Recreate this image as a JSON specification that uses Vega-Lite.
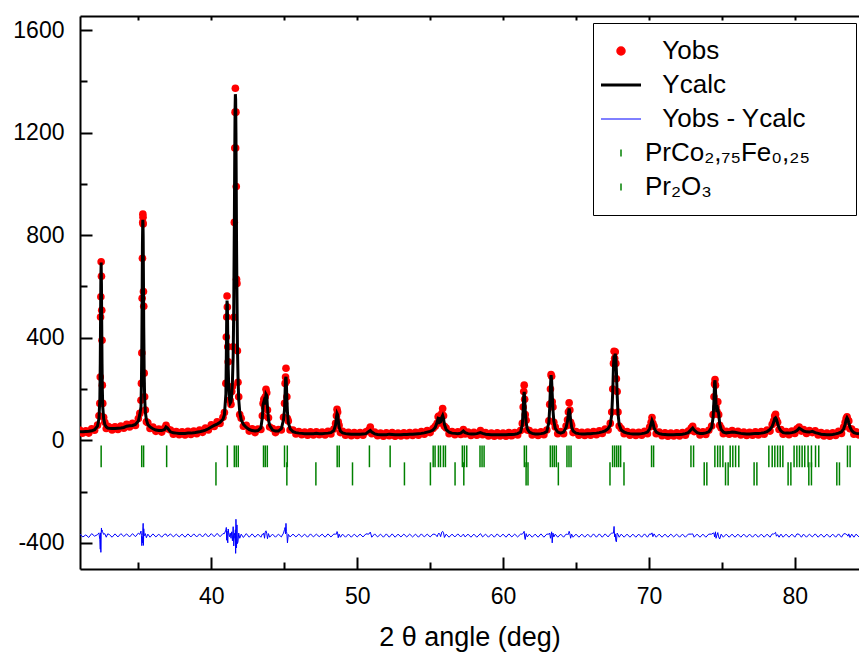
{
"$schema": "https://vega.github.io/schema/vega-lite/v6.json",
"width": 779, "height": 553,
"autosize": {"type": "none"},
"padding": {"left": 80, "top": 16, "right": 0, "bottom": 84},
"background": "white",
"config": {
  "view": {"stroke": null},
  "font": "Liberation Sans",
  "axis": {"domainColor": "black", "domainWidth": 2, "tickColor": "black", "tickWidth": 2, "labelColor": "black", "labelFont": "Liberation Sans", "labelFontSize": 23, "grid": false, "titleFont": "Liberation Sans", "titleFontWeight": "normal", "titleColor": "black"}
},
"datasets": {
"p": [
{"x":31.0,"c":33,"o":39,"d":-366},{"x":31.2,"c":33,"o":28,"d":-377},{"x":31.4,"c":34,"o":37,"d":-369},{"x":31.6,"c":35,"o":28,"d":-379},{"x":31.8,"c":37,"o":45,"d":-364},{"x":32.0,"c":41,"o":39,"d":-374},{"x":32.2,"c":55,"o":59,"d":-368},
{"x":32.30,"c":85,"o":96,"d":-361},{"x":32.36,"c":160,"o":144,"d":-388},{"x":32.39,"c":300,"o":247,"d":-425},{"x":32.41,"c":470,"o":481,"d":-361},{"x":32.43,"c":640,"o":560,"d":-437},{"x":32.45,"c":693,"o":696,"d":-369},{"x":32.47,"c":610,"o":640,"d":-342},{"x":32.49,"c":450,"o":507,"d":-356},{"x":32.51,"c":300,"o":390,"d":-350},{"x":32.53,"c":200,"o":215,"d":-357},{"x":32.56,"c":130,"o":144,"d":-358},{"x":32.62,"c":85,"o":90,"d":-367},{"x":32.70,"c":62,"o":70,"d":-364},{"x":32.80,"c":52,"o":46,"d":-378},{"x":32.9,"c":48,"o":55,"d":-365},
{"x":33.0,"c":47,"o":52,"d":-367},{"x":33.2,"c":46,"o":40,"d":-378},{"x":33.4,"c":46,"o":53,"d":-365},{"x":33.6,"c":47,"o":42,"d":-377},{"x":33.8,"c":48,"o":56,"d":-364},{"x":34.0,"c":50,"o":47,"d":-375},{"x":34.2,"c":55,"o":62,"d":-365},{"x":34.4,"c":57,"o":52,"d":-377},{"x":34.6,"c":58,"o":66,"d":-364},{"x":34.8,"c":62,"o":58,"d":-376},{"x":35.0,"c":75,"o":85,"d":-362},{"x":35.1,"c":100,"o":105,"d":-367},
{"x":35.18,"c":130,"o":156,"d":-354},{"x":35.21,"c":220,"o":222,"d":-370},{"x":35.24,"c":380,"o":341,"d":-411},{"x":35.26,"c":560,"o":554,"d":-378},{"x":35.28,"c":760,"o":710,"d":-400},{"x":35.30,"c":850,"o":850,"d":-372},{"x":35.31,"c":860,"o":882,"d":-350},{"x":35.32,"c":840,"o":870,"d":-335},{"x":35.33,"c":800,"o":844,"d":-324},{"x":35.35,"c":620,"o":580,"d":-410},{"x":35.37,"c":440,"o":523,"d":-345},{"x":35.40,"c":260,"o":262,"d":-370},{"x":35.43,"c":170,"o":170,"d":-372},{"x":35.48,"c":110,"o":118,"d":-364},{"x":35.55,"c":80,"o":72,"d":-380},{"x":35.65,"c":62,"o":68,"d":-366},{"x":35.8,"c":52,"o":46,"d":-378},
{"x":36.0,"c":45,"o":52,"d":-365},{"x":36.2,"c":40,"o":35,"d":-377},{"x":36.4,"c":38,"o":44,"d":-366},{"x":36.6,"c":38,"o":32,"d":-378},{"x":36.8,"c":42,"o":48,"d":-366},{"x":36.9,"c":52,"o":58,"d":-366},{"x":37.0,"c":48,"o":45,"d":-375},{"x":37.2,"c":33,"o":40,"d":-365},{"x":37.4,"c":29,"o":24,"d":-377},{"x":37.6,"c":28,"o":34,"d":-366},{"x":37.8,"c":27,"o":22,"d":-377},{"x":38.0,"c":27,"o":33,"d":-366},{"x":38.2,"c":27,"o":21,"d":-378},{"x":38.4,"c":28,"o":35,"d":-365},{"x":38.6,"c":28,"o":23,"d":-377},{"x":38.8,"c":29,"o":36,"d":-365},{"x":39.0,"c":31,"o":26,"d":-377},{"x":39.2,"c":33,"o":40,"d":-365},{"x":39.4,"c":36,"o":31,"d":-377},{"x":39.6,"c":40,"o":48,"d":-364},{"x":39.8,"c":45,"o":40,"d":-377},{"x":40.0,"c":52,"o":60,"d":-364},{"x":40.2,"c":58,"o":54,"d":-376},{"x":40.4,"c":63,"o":72,"d":-363},{"x":40.6,"c":70,"o":66,"d":-376},{"x":40.8,"c":82,"o":90,"d":-364},{"x":40.9,"c":100,"o":108,"d":-364},
{"x":41.00,"c":180,"o":222,"d":-350},{"x":41.03,"c":330,"o":403,"d":-340},{"x":41.06,"c":500,"o":481,"d":-390},{"x":41.08,"c":545,"o":563,"d":-354},{"x":41.10,"c":530,"o":520,"d":-382},{"x":41.13,"c":400,"o":365,"d":-400},{"x":41.16,"c":280,"o":306,"d":-346},{"x":41.20,"c":200,"o":207,"d":-365},{"x":41.25,"c":160,"o":156,"d":-376},{"x":41.30,"c":145,"o":155,"d":-362},{"x":41.35,"c":150,"o":140,"d":-382},{"x":41.40,"c":175,"o":190,"d":-357},{"x":41.45,"c":230,"o":210,"d":-392},{"x":41.50,"c":330,"o":365,"d":-337},{"x":41.54,"c":520,"o":480,"d":-412},{"x":41.58,"c":850,"o":850,"d":-372},{"x":41.61,"c":1130,"o":1140,"d":-362},{"x":41.63,"c":1290,"o":1280,"d":-382},{"x":41.65,"c":1350,"o":1373,"d":-349},{"x":41.67,"c":1330,"o":1140,"d":-441},{"x":41.69,"c":1200,"o":1280,"d":-308},{"x":41.71,"c":1000,"o":990,"d":-382},{"x":41.73,"c":780,"o":628,"d":-420},{"x":41.76,"c":560,"o":612,"d":-330},{"x":41.79,"c":380,"o":349,"d":-403},{"x":41.83,"c":250,"o":226,"d":-396},{"x":41.88,"c":160,"o":170,"d":-362},{"x":41.95,"c":110,"o":100,"d":-382},{"x":42.05,"c":80,"o":86,"d":-366},
{"x":42.2,"c":62,"o":55,"d":-379},{"x":42.4,"c":50,"o":58,"d":-364},{"x":42.6,"c":42,"o":36,"d":-378},{"x":42.8,"c":38,"o":45,"d":-365},{"x":43.0,"c":36,"o":30,"d":-378},{"x":43.2,"c":38,"o":44,"d":-366},{"x":43.4,"c":48,"o":42,"d":-378},{"x":43.50,"c":90,"o":96,"d":-366},{"x":43.55,"c":140,"o":144,"d":-368},{"x":43.60,"c":150,"o":160,"d":-362},{"x":43.65,"c":140,"o":130,"d":-382},{"x":43.70,"c":155,"o":170,"d":-357},{"x":43.75,"c":180,"o":199,"d":-353},{"x":43.80,"c":175,"o":185,"d":-362},{"x":43.85,"c":130,"o":118,"d":-384},{"x":43.92,"c":80,"o":88,"d":-364},{"x":44.0,"c":58,"o":52,"d":-378},{"x":44.2,"c":40,"o":46,"d":-366},{"x":44.4,"c":36,"o":30,"d":-378},{"x":44.6,"c":36,"o":42,"d":-366},{"x":44.8,"c":45,"o":40,"d":-377},{"x":44.95,"c":80,"o":90,"d":-362},
{"x":45.02,"c":120,"o":144,"d":-348},{"x":45.06,"c":190,"o":222,"d":-340},{"x":45.09,"c":240,"o":247,"d":-365},{"x":45.12,"c":248,"o":281,"d":-324},{"x":45.15,"c":215,"o":230,"d":-357},{"x":45.18,"c":160,"o":170,"d":-362},{"x":45.22,"c":110,"o":85,"d":-400},{"x":45.28,"c":70,"o":75,"d":-367},{"x":45.4,"c":45,"o":40,"d":-377},{"x":45.6,"c":34,"o":40,"d":-366},{"x":45.8,"c":30,"o":25,"d":-377},{"x":46.0,"c":28,"o":34,"d":-366},{"x":46.2,"c":27,"o":22,"d":-377},{"x":46.4,"c":26,"o":32,"d":-366},{"x":46.6,"c":26,"o":20,"d":-378},{"x":46.8,"c":26,"o":33,"d":-365},{"x":47.0,"c":26,"o":21,"d":-377},{"x":47.2,"c":27,"o":33,"d":-366},{"x":47.4,"c":26,"o":22,"d":-376},{"x":47.6,"c":26,"o":32,"d":-366},{"x":47.8,"c":27,"o":21,"d":-378},{"x":48.0,"c":28,"o":35,"d":-365},{"x":48.2,"c":30,"o":25,"d":-377},{"x":48.4,"c":38,"o":44,"d":-366},
{"x":48.52,"c":60,"o":66,"d":-366},{"x":48.58,"c":90,"o":96,"d":-366},{"x":48.62,"c":105,"o":121,"d":-356},{"x":48.66,"c":100,"o":110,"d":-362},{"x":48.70,"c":80,"o":72,"d":-380},{"x":48.76,"c":52,"o":58,"d":-366},{"x":48.85,"c":36,"o":30,"d":-378},{"x":49.0,"c":29,"o":35,"d":-366},{"x":49.2,"c":26,"o":20,"d":-378},{"x":49.4,"c":25,"o":31,"d":-366},{"x":49.6,"c":24,"o":18,"d":-378},{"x":49.8,"c":24,"o":30,"d":-366},{"x":50.0,"c":24,"o":19,"d":-377},{"x":50.2,"c":24,"o":30,"d":-366},{"x":50.4,"c":25,"o":20,"d":-377},{"x":50.6,"c":26,"o":33,"d":-365},{"x":50.8,"c":34,"o":40,"d":-366},{"x":50.9,"c":38,"o":52,"d":-358},{"x":51.0,"c":32,"o":26,"d":-378},{"x":51.2,"c":25,"o":32,"d":-365},{"x":51.4,"c":23,"o":18,"d":-377},{"x":51.6,"c":22,"o":28,"d":-366},{"x":51.8,"c":22,"o":16,"d":-378},{"x":52.0,"c":22,"o":29,"d":-365},{"x":52.2,"c":24,"o":18,"d":-378},{"x":52.4,"c":23,"o":30,"d":-365},{"x":52.6,"c":22,"o":16,"d":-378},{"x":52.8,"c":22,"o":28,"d":-366},{"x":53.0,"c":22,"o":17,"d":-377},{"x":53.2,"c":23,"o":29,"d":-366},{"x":53.4,"c":23,"o":18,"d":-377},{"x":53.6,"c":24,"o":30,"d":-366},{"x":53.8,"c":24,"o":19,"d":-377},{"x":54.0,"c":25,"o":31,"d":-366},{"x":54.2,"c":26,"o":20,"d":-378},{"x":54.4,"c":27,"o":34,"d":-365},{"x":54.6,"c":29,"o":24,"d":-377},{"x":54.8,"c":32,"o":38,"d":-366},{"x":55.0,"c":35,"o":30,"d":-377},{"x":55.2,"c":40,"o":46,"d":-366},{"x":55.35,"c":50,"o":55,"d":-367},
{"x":55.48,"c":70,"o":66,"d":-376},{"x":55.55,"c":86,"o":92,"d":-366},{"x":55.60,"c":85,"o":95,"d":-362},{"x":55.66,"c":70,"o":76,"d":-366},{"x":55.72,"c":72,"o":68,"d":-376},{"x":55.80,"c":90,"o":104,"d":-358},{"x":55.86,"c":97,"o":124,"d":-355},{"x":55.92,"c":85,"o":96,"d":-361},{"x":55.98,"c":62,"o":55,"d":-379},{"x":56.1,"c":42,"o":48,"d":-366},{"x":56.3,"c":32,"o":26,"d":-378},{"x":56.5,"c":28,"o":34,"d":-366},{"x":56.7,"c":27,"o":22,"d":-377},{"x":56.9,"c":26,"o":33,"d":-365},{"x":57.1,"c":28,"o":23,"d":-377},{"x":57.28,"c":36,"o":42,"d":-366},{"x":57.4,"c":30,"o":25,"d":-377},{"x":57.6,"c":26,"o":32,"d":-366},{"x":57.8,"c":25,"o":19,"d":-378},{"x":58.0,"c":25,"o":31,"d":-366},{"x":58.2,"c":26,"o":20,"d":-378},{"x":58.45,"c":30,"o":38,"d":-364},{"x":58.6,"c":27,"o":22,"d":-377},{"x":58.8,"c":24,"o":30,"d":-366},{"x":59.0,"c":23,"o":17,"d":-378},{"x":59.2,"c":22,"o":28,"d":-366},{"x":59.4,"c":22,"o":16,"d":-378},{"x":59.6,"c":22,"o":29,"d":-365},{"x":59.8,"c":22,"o":17,"d":-377},{"x":60.0,"c":22,"o":28,"d":-366},{"x":60.2,"c":22,"o":16,"d":-378},{"x":60.4,"c":23,"o":30,"d":-365},{"x":60.6,"c":23,"o":18,"d":-377},{"x":60.8,"c":24,"o":30,"d":-366},{"x":61.0,"c":26,"o":21,"d":-377},{"x":61.2,"c":32,"o":38,"d":-366},
{"x":61.32,"c":60,"o":66,"d":-366},{"x":61.38,"c":120,"o":130,"d":-362},{"x":61.42,"c":175,"o":190,"d":-357},{"x":61.45,"c":189,"o":215,"d":-355},{"x":61.48,"c":165,"o":160,"d":-377},{"x":61.52,"c":115,"o":100,"d":-387},{"x":61.58,"c":70,"o":78,"d":-364},{"x":61.66,"c":45,"o":40,"d":-377},{"x":61.8,"c":32,"o":38,"d":-366},{"x":62.0,"c":27,"o":21,"d":-378},{"x":62.2,"c":25,"o":31,"d":-366},{"x":62.4,"c":25,"o":19,"d":-378},{"x":62.6,"c":26,"o":33,"d":-365},{"x":62.8,"c":28,"o":22,"d":-378},{"x":63.0,"c":34,"o":40,"d":-366},
{"x":63.14,"c":70,"o":76,"d":-366},{"x":63.20,"c":130,"o":140,"d":-362},{"x":63.25,"c":210,"o":200,"d":-382},{"x":63.29,"c":254,"o":256,"d":-370},{"x":63.33,"c":235,"o":250,"d":-357},{"x":63.37,"c":180,"o":150,"d":-400},{"x":63.42,"c":120,"o":130,"d":-362},{"x":63.48,"c":75,"o":70,"d":-377},{"x":63.58,"c":46,"o":52,"d":-366},{"x":63.75,"c":32,"o":26,"d":-378},{"x":63.95,"c":28,"o":34,"d":-366},{"x":64.15,"c":32,"o":26,"d":-378},{"x":64.32,"c":50,"o":56,"d":-366},{"x":64.42,"c":75,"o":80,"d":-367},{"x":64.48,"c":105,"o":110,"d":-367},{"x":64.53,"c":124,"o":146,"d":-355},{"x":64.58,"c":110,"o":118,"d":-364},{"x":64.63,"c":80,"o":70,"d":-382},{"x":64.70,"c":52,"o":58,"d":-366},{"x":64.8,"c":36,"o":30,"d":-378},
{"x":65.0,"c":28,"o":34,"d":-366},{"x":65.2,"c":26,"o":20,"d":-378},{"x":65.4,"c":25,"o":31,"d":-366},{"x":65.6,"c":25,"o":19,"d":-378},{"x":65.8,"c":26,"o":32,"d":-366},{"x":66.0,"c":26,"o":20,"d":-378},{"x":66.2,"c":27,"o":34,"d":-365},{"x":66.4,"c":28,"o":22,"d":-378},{"x":66.6,"c":30,"o":37,"d":-365},{"x":66.8,"c":33,"o":27,"d":-378},{"x":67.0,"c":37,"o":44,"d":-365},{"x":67.2,"c":45,"o":40,"d":-377},{"x":67.35,"c":60,"o":66,"d":-366},
{"x":67.45,"c":100,"o":110,"d":-362},{"x":67.52,"c":190,"o":200,"d":-362},{"x":67.57,"c":290,"o":300,"d":-362},{"x":67.61,"c":330,"o":347,"d":-336},{"x":67.65,"c":325,"o":320,"d":-377},{"x":67.69,"c":338,"o":345,"d":-365},{"x":67.73,"c":320,"o":300,"d":-392},{"x":67.77,"c":270,"o":240,"d":-396},{"x":67.82,"c":180,"o":190,"d":-362},{"x":67.88,"c":105,"o":110,"d":-367},{"x":67.96,"c":62,"o":56,"d":-378},{"x":68.1,"c":40,"o":46,"d":-366},{"x":68.3,"c":32,"o":26,"d":-378},{"x":68.5,"c":28,"o":34,"d":-366},{"x":68.7,"c":26,"o":20,"d":-378},{"x":68.9,"c":25,"o":31,"d":-366},{"x":69.1,"c":25,"o":19,"d":-378},{"x":69.3,"c":25,"o":31,"d":-366},{"x":69.5,"c":26,"o":20,"d":-378},{"x":69.7,"c":28,"o":35,"d":-365},{"x":69.9,"c":32,"o":26,"d":-378},{"x":70.05,"c":45,"o":52,"d":-365},
{"x":70.15,"c":65,"o":70,"d":-367},{"x":70.21,"c":78,"o":89,"d":-361},{"x":70.27,"c":70,"o":66,"d":-376},{"x":70.35,"c":48,"o":55,"d":-365},{"x":70.5,"c":32,"o":26,"d":-378},{"x":70.7,"c":26,"o":32,"d":-366},{"x":70.9,"c":24,"o":18,"d":-378},{"x":71.1,"c":23,"o":29,"d":-366},{"x":71.3,"c":22,"o":16,"d":-378},{"x":71.5,"c":22,"o":28,"d":-366},{"x":71.7,"c":22,"o":17,"d":-377},{"x":71.9,"c":23,"o":29,"d":-366},{"x":72.1,"c":23,"o":17,"d":-378},{"x":72.3,"c":24,"o":30,"d":-366},{"x":72.5,"c":26,"o":20,"d":-378},{"x":72.7,"c":30,"o":36,"d":-366},{"x":72.9,"c":42,"o":48,"d":-366},{"x":73.0,"c":48,"o":55,"d":-365},{"x":73.1,"c":40,"o":34,"d":-378},{"x":73.3,"c":30,"o":36,"d":-366},{"x":73.5,"c":27,"o":21,"d":-378},{"x":73.7,"c":27,"o":33,"d":-366},{"x":73.9,"c":29,"o":23,"d":-378},{"x":74.1,"c":33,"o":39,"d":-366},{"x":74.3,"c":50,"o":56,"d":-366},
{"x":74.40,"c":90,"o":100,"d":-362},{"x":74.46,"c":160,"o":170,"d":-362},{"x":74.50,"c":225,"o":220,"d":-377},{"x":74.53,"c":234,"o":237,"d":-369},{"x":74.56,"c":200,"o":215,"d":-357},{"x":74.60,"c":140,"o":130,"d":-382},{"x":74.66,"c":110,"o":112,"d":-370},{"x":74.72,"c":120,"o":150,"d":-360},{"x":74.78,"c":105,"o":100,"d":-377},{"x":74.85,"c":65,"o":58,"d":-385},{"x":74.95,"c":42,"o":48,"d":-366},{"x":75.1,"c":32,"o":26,"d":-378},{"x":75.3,"c":29,"o":35,"d":-366},{"x":75.5,"c":30,"o":24,"d":-378},{"x":75.7,"c":32,"o":38,"d":-366},{"x":75.9,"c":31,"o":25,"d":-378},{"x":76.1,"c":29,"o":35,"d":-366},{"x":76.3,"c":27,"o":21,"d":-378},{"x":76.5,"c":26,"o":32,"d":-366},{"x":76.7,"c":25,"o":19,"d":-378},{"x":76.9,"c":25,"o":31,"d":-366},{"x":77.1,"c":26,"o":20,"d":-378},{"x":77.3,"c":27,"o":33,"d":-366},{"x":77.5,"c":27,"o":21,"d":-378},{"x":77.7,"c":28,"o":34,"d":-366},{"x":77.9,"c":30,"o":24,"d":-378},{"x":78.1,"c":34,"o":40,"d":-366},{"x":78.3,"c":42,"o":36,"d":-378},{"x":78.45,"c":55,"o":62,"d":-365},
{"x":78.55,"c":70,"o":76,"d":-366},{"x":78.62,"c":85,"o":95,"d":-362},{"x":78.68,"c":88,"o":101,"d":-359},{"x":78.74,"c":82,"o":80,"d":-374},{"x":78.82,"c":66,"o":70,"d":-368},{"x":78.92,"c":48,"o":42,"d":-378},{"x":79.05,"c":36,"o":42,"d":-366},{"x":79.2,"c":30,"o":24,"d":-378},{"x":79.4,"c":28,"o":34,"d":-366},{"x":79.6,"c":28,"o":22,"d":-378},{"x":79.8,"c":30,"o":36,"d":-366},{"x":80.0,"c":33,"o":27,"d":-378},{"x":80.15,"c":38,"o":45,"d":-365},{"x":80.3,"c":47,"o":52,"d":-367},{"x":80.45,"c":42,"o":36,"d":-378},{"x":80.6,"c":36,"o":42,"d":-366},{"x":80.8,"c":33,"o":27,"d":-378},{"x":81.0,"c":32,"o":38,"d":-366},{"x":81.2,"c":35,"o":30,"d":-377},{"x":81.4,"c":30,"o":37,"d":-365},{"x":81.6,"c":27,"o":21,"d":-378},{"x":81.8,"c":24,"o":30,"d":-366},{"x":82.0,"c":23,"o":17,"d":-378},{"x":82.2,"c":22,"o":28,"d":-366},{"x":82.4,"c":22,"o":16,"d":-378},{"x":82.6,"c":23,"o":29,"d":-366},{"x":82.8,"c":25,"o":19,"d":-378},{"x":83.0,"c":28,"o":35,"d":-365},{"x":83.2,"c":33,"o":27,"d":-378},{"x":83.35,"c":45,"o":52,"d":-365},
{"x":83.45,"c":62,"o":70,"d":-364},{"x":83.52,"c":80,"o":85,"d":-367},{"x":83.58,"c":88,"o":92,"d":-368},{"x":83.64,"c":82,"o":80,"d":-374},{"x":83.70,"c":68,"o":75,"d":-365},{"x":83.78,"c":52,"o":45,"d":-379},{"x":83.9,"c":38,"o":44,"d":-366},{"x":84.05,"c":30,"o":24,"d":-378},{"x":84.2,"c":27,"o":33,"d":-366},{"x":84.4,"c":26,"o":21,"d":-377}
],
"b": [
{"ph":"A","x":32.45},{"ph":"A","x":35.23},{"ph":"A","x":35.36},{"ph":"A","x":36.94},{"ph":"A","x":41.10},{"ph":"A","x":41.58},{"ph":"A","x":41.71},{"ph":"A","x":41.85},{"ph":"A","x":43.58},{"ph":"A","x":43.70},{"ph":"A","x":43.84},{"ph":"A","x":45.02},{"ph":"A","x":45.21},{"ph":"A","x":48.63},{"ph":"A","x":48.77},{"ph":"A","x":50.84},{"ph":"A","x":52.26},{"ph":"A","x":55.21},{"ph":"A","x":55.34},{"ph":"A","x":55.57},{"ph":"A","x":55.71},{"ph":"A","x":55.91},{"ph":"A","x":56.05},{"ph":"A","x":57.21},{"ph":"A","x":57.35},{"ph":"A","x":57.51},{"ph":"A","x":58.42},{"ph":"A","x":58.56},{"ph":"A","x":58.70},{"ph":"A","x":61.46},{"ph":"A","x":61.60},{"ph":"A","x":63.24},{"ph":"A","x":63.38},{"ph":"A","x":63.51},{"ph":"A","x":63.65},{"ph":"A","x":64.38},{"ph":"A","x":64.52},{"ph":"A","x":64.66},{"ph":"A","x":67.51},{"ph":"A","x":67.65},{"ph":"A","x":67.79},{"ph":"A","x":67.92},{"ph":"A","x":68.06},{"ph":"A","x":70.18},{"ph":"A","x":70.32},{"ph":"A","x":72.88},{"ph":"A","x":73.06},{"ph":"A","x":74.52},{"ph":"A","x":74.71},{"ph":"A","x":74.88},{"ph":"A","x":75.07},{"ph":"A","x":75.57},{"ph":"A","x":75.75},{"ph":"A","x":75.94},{"ph":"A","x":76.16},{"ph":"A","x":78.22},{"ph":"A","x":78.45},{"ph":"A","x":78.63},{"ph":"A","x":78.82},{"ph":"A","x":79.00},{"ph":"A","x":79.18},{"ph":"A","x":79.95},{"ph":"A","x":80.14},{"ph":"A","x":80.32},{"ph":"A","x":80.50},{"ph":"A","x":80.68},{"ph":"A","x":80.91},{"ph":"A","x":81.14},{"ph":"A","x":81.42},{"ph":"A","x":81.64},{"ph":"A","x":83.61},{"ph":"A","x":83.79},
{"ph":"B","x":40.32},{"ph":"B","x":45.18},{"ph":"B","x":47.17},{"ph":"B","x":49.68},{"ph":"B","x":53.24},{"ph":"B","x":55.02},{"ph":"B","x":56.71},{"ph":"B","x":57.31},{"ph":"B","x":61.58},{"ph":"B","x":61.71},{"ph":"B","x":63.79},{"ph":"B","x":67.33},{"ph":"B","x":68.29},{"ph":"B","x":73.79},{"ph":"B","x":73.97},{"ph":"B","x":75.25},{"ph":"B","x":75.43},{"ph":"B","x":77.21},{"ph":"B","x":77.40},{"ph":"B","x":79.54},{"ph":"B","x":79.73},{"ph":"B","x":80.96},{"ph":"B","x":81.14},{"ph":"B","x":82.88},{"ph":"B","x":83.06}
]
},
"resolve": {"axis": {"x": "independent"}},
"layer": [
{
 "data": {"name": "p"},
 "mark": {"type": "circle", "size": 58, "opacity": 1, "clip": true},
 "encoding": {
  "x": {"field": "x", "type": "quantitative", "scale": {"domain": [31, 84.4], "nice": false, "zero": false},
   "axis": {"orient": "bottom", "values": [35,40,45,50,55,60,65,70,75,80], "labelExpr": "datum.value % 10 === 0 ? '' + datum.value : ''", "tickSize": {"condition": {"test": "datum.value % 10 === 0", "value": -12}, "value": -7}, "labelPadding": 28, "labelFlush": false, "title": "2 θ angle (deg)", "titleFontSize": 27, "titlePadding": 16}},
  "y": {"field": "o", "type": "quantitative", "scale": {"domain": [-502, 1655], "nice": false, "zero": false},
   "axis": {"values": [-400,-200,0,200,400,600,800,1000,1200,1400,1600], "labelExpr": "datum.value % 400 === 0 ? '' + datum.value : ''", "tickSize": {"condition": {"test": "datum.value % 400 === 0", "value": -12}, "value": -7}, "labelPadding": 28, "labelFlush": false, "title": null}},
  "color": {"datum": "Yobs",
   "scale": {"domain": ["Yobs", "Ycalc", "Yobs - Ycalc", "PrCo₂,₇₅Fe₀,₂₅", "Pr₂O₃"], "range": ["#ff0000", "#000000", "#0000ff", "#008000", "#008000"]},
   "legend": {"orient": "none", "legendX": 513, "legendY": 7, "title": null, "padding": 15, "strokeColor": "black", "fillColor": "white",
     "labelFont": "Liberation Sans", "labelFontSize": 26, "labelColor": "black", "symbolSize": 400, "rowPadding": 8, "labelOffset": 11, "labelLimit": 500,
     "encoding": {
      "symbols": {
       "shape": {"value": {"expr": "datum.value === 'Yobs' ? 'M0.4,0A0.4,0.4,0,1,1,-0.4,0A0.4,0.4,0,1,1,0.4,0Z' : ((datum.value === 'Ycalc' || datum.value === 'Yobs - Ycalc') ? 'M-2,0L2,0' : 'M0,-0.35L0,0.35')"}},
       "fill": {"value": {"expr": "datum.value === 'Yobs' ? '#ff0000' : 'transparent'"}},
       "stroke": {"value": {"expr": "datum.value === 'Yobs' ? 'transparent' : (datum.value === 'Ycalc' ? '#000000' : (datum.value === 'Yobs - Ycalc' ? '#0000ff' : '#008000'))"}},
       "strokeWidth": {"value": {"expr": "datum.value === 'Ycalc' ? 3 : (datum.value === 'Yobs - Ycalc' ? 1 : 1.5)"}},
       "opacity": {"value": 1}
      },
      "labels": {
       "text": {"value": {"expr": "(datum.value === 'Yobs' || datum.value === 'Ycalc' || datum.value === 'Yobs - Ycalc') ? '\u200b\u2002\u2006' + datum.value : (datum.value === 'Pr₂O₃' ? datum.value : datum.value + '\u2003\u2006\u200b')"}}
      }
     }
   }}
 }
},
{
 "data": {"name": "p"},
 "mark": {"type": "line", "strokeWidth": 3, "clip": true},
 "encoding": {
  "x": {"field": "x", "type": "quantitative", "axis": {"orient": "top", "values": [35,40,45,50,55,60,65,70,75,80], "labels": false, "tickSize": -4, "title": null}},
  "y": {"field": "c", "type": "quantitative"},
  "color": {"datum": "Ycalc"}
 }
},
{
 "data": {"name": "p"},
 "mark": {"type": "line", "strokeWidth": 1, "clip": true},
 "encoding": {
  "x": {"field": "x", "type": "quantitative", "axis": null},
  "y": {"field": "d", "type": "quantitative"},
  "color": {"datum": "Yobs - Ycalc"}
 }
},
{
 "data": {"name": "b"},
 "transform": [{"filter": "datum.ph === 'A'"}],
 "mark": {"type": "rule", "strokeWidth": 1.5, "clip": true},
 "encoding": {
  "x": {"field": "x", "type": "quantitative", "axis": null},
  "y": {"datum": -20},
  "y2": {"datum": -105},
  "color": {"datum": "PrCo₂,₇₅Fe₀,₂₅"}
 }
},
{
 "data": {"name": "b"},
 "transform": [{"filter": "datum.ph === 'B'"}],
 "mark": {"type": "rule", "strokeWidth": 1.5, "clip": true},
 "encoding": {
  "x": {"field": "x", "type": "quantitative", "axis": null},
  "y": {"datum": -86},
  "y2": {"datum": -176},
  "color": {"datum": "Pr₂O₃"}
 }
}
]
}
